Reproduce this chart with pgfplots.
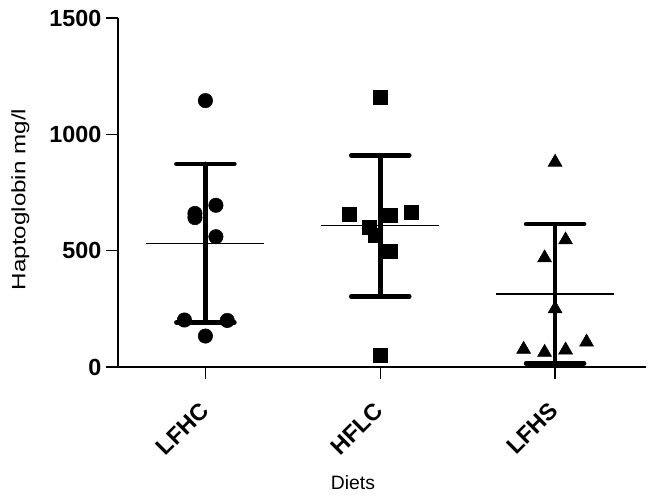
\documentclass[border=0pt]{standalone}
\usepackage{fontspec}
\setmainfont{Liberation Sans}
\usepackage{graphicx}
\usepackage{pgfplots}
\pgfplotsset{compat=1.18}
\begin{document}
\begin{tikzpicture}
\begin{axis}[
  scale only axis, width=396pt, height=261.75pt,
  xmin=-0.5, xmax=2.52, ymin=0, ymax=1500,
  axis x line=bottom, axis y line=left,
  axis line style={line width=1.3pt, -},
  xtick={0,1,2}, xticklabels={LFHC,HFLC,LFHS},
  ytick={0,500,1000,1500},
  tick align=outside, major tick length=9pt,
  tick style={line width=1.1pt, black},
  ticklabel style={font=\bfseries\fontsize{17.5}{17.5}\selectfont},
  /pgf/number format/assume math mode=true,
  /pgf/number format/1000 sep={},
  scaled y ticks=false,
  xticklabel style={rotate=45, anchor=5},
  xticklabel shift=16.5pt,
  xlabel={Diets},
  ylabel={\scalebox{1.25}[1]{Haptoglobin mg/l}},
  label style={font=\fontsize{14.5}{14.5}\selectfont},
  xlabel style={at={(axis description cs:0.445,-0.332)}, anchor=center},
  ylabel style={at={(axis description cs:-0.185,0.48)}, anchor=center},
  clip=false,
]
% mean lines
\addplot[black, line width=1.1pt] coordinates {(-0.337,530) (0.337,530)};
\addplot[black, line width=1.1pt] coordinates {(0.663,607) (1.337,607)};
\addplot[black, line width=1.1pt] coordinates {(1.663,314) (2.337,314)};
% SD bars
\addplot[black, line width=3.4pt, line cap=round] coordinates {(0,192) (0,873)};
\addplot[black, line width=3.4pt, line cap=round] coordinates {(-0.166,873) (0.166,873)};
\addplot[black, line width=3.4pt, line cap=round] coordinates {(-0.166,192) (0.166,192)};
\addplot[black, line width=3.4pt, line cap=round] coordinates {(1,303) (1,910)};
\addplot[black, line width=3.4pt, line cap=round] coordinates {(0.834,910) (1.166,910)};
\addplot[black, line width=3.4pt, line cap=round] coordinates {(0.834,303) (1.166,303)};
\addplot[black, line width=3.4pt, line cap=round] coordinates {(2,16) (2,614)};
\addplot[black, line width=3.4pt, line cap=round] coordinates {(1.834,614) (2.166,614)};
\addplot[black, line width=3.4pt, line cap=round] coordinates {(1.834,16) (2.166,16)};
% individual values
\addplot[only marks, mark=*, mark size=5.4pt, black] coordinates {
  (0,1145) (-0.06,660) (-0.06,642) (0.06,695) (0.06,560) (-0.12,202) (0.125,200) (0,133)};
\addplot[only marks, mark=square*, mark size=5.25pt, black] coordinates {
  (1,1160) (0.82,657) (1.06,652) (1.18,667) (0.94,600) (0.97,566) (1.06,497) (1,50)};
\addplot[only marks, mark=triangle*, mark size=6pt, black] coordinates {
  (2,880) (2.06,546) (1.94,469) (2,250) (1.82,76) (1.94,63) (2.06,73) (2.18,107)};
\end{axis}
\pgfresetboundingbox
\path (-88.5pt,-98.25pt) rectangle (401.25pt,275.25pt);
\end{tikzpicture}
\end{document}
